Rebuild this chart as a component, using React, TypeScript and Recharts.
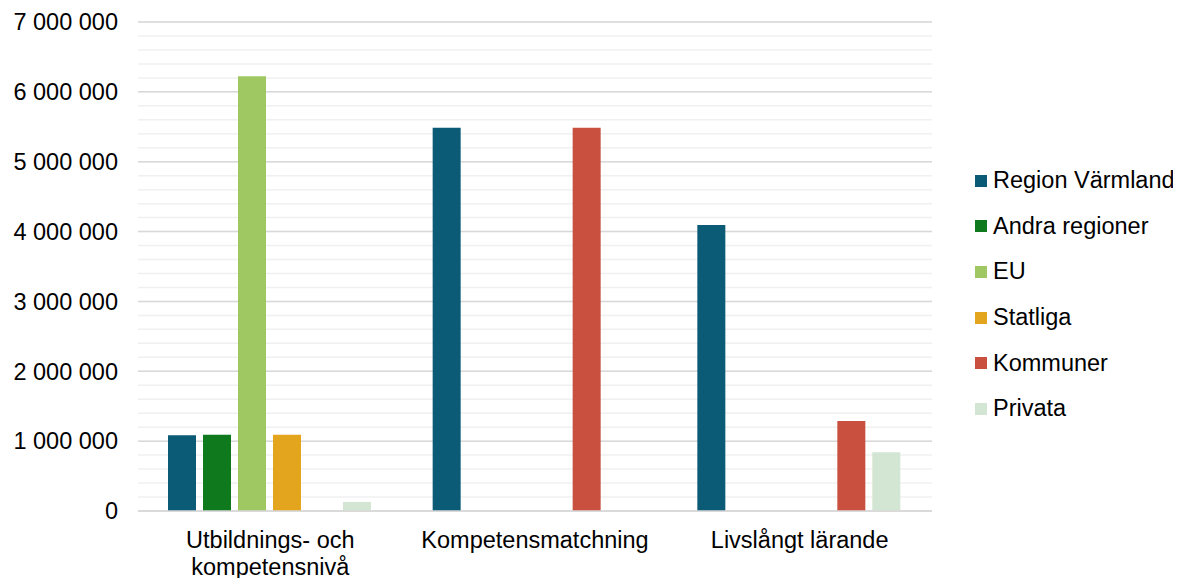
import React from "react";
import { ComposedChart, Bar, XAxis, YAxis, CartesianGrid } from "recharts";

const categories = ["Utbildnings- och kompetensnivå", "Kompetensmatchning", "Livslångt lärande"];
const regionVarmland = [1085000, 5485000, 4095000];
const andraRegioner = [1090000, 0, 0];
const eu = [6225000, 0, 0];
const statliga = [1090000, 0, 0];
const kommuner = [0, 5485000, 1290000];
const privata = [130000, 0, 840000];

const yTicks = [0, 1000000, 2000000, 3000000, 4000000, 5000000, 6000000, 7000000];
const minorTicks = Array.from({ length: 36 }, (_, i) => i * 200000);

const seriesNames = ["Region Värmland", "Andra regioner", "EU", "Statliga", "Kommuner", "Privata"];
const seriesKeys = ["rv", "andra", "eu", "stat", "komm", "priv"];
const seriesColors = ["#0B5A76", "#0E7A1D", "#9FC862", "#E2A51D", "#C94F3F", "#D3E5D3"];

const data = categories.map((c, i) => ({
  name: c,
  rv: regionVarmland[i],
  andra: andraRegioner[i],
  eu: eu[i],
  stat: statliga[i],
  komm: kommuner[i],
  priv: privata[i],
}));

const FONT = "'Liberation Sans', Arial, sans-serif";
const FS = 23.5;

const fmt = (v: number) => String(v).replace(/\B(?=(\d{3})+(?!\d))/g, " ");

const XTick = (props: any) => {
  const { x, y, payload } = props;
  const label: string = payload.value;
  const lines = label === "Utbildnings- och kompetensnivå" ? ["Utbildnings- och", "kompetensnivå"] : [label];
  return (
    <g>
      {lines.map((l, i) => (
        <text key={i} x={x} y={y + 29 + i * 27} textAnchor="middle" fill="#000" fontSize={FS} fontFamily={FONT}>
          {l}
        </text>
      ))}
    </g>
  );
};

const LegendBox = () => (
  <div style={{ position: "absolute", left: 967, top: 150, fontFamily: FONT, fontSize: FS, color: "#000" }}>
    {seriesNames.map((n, i) => (
      <div key={n} style={{ display: "flex", alignItems: "center", height: 45.6 }}>
        <div style={{ width: 12, height: 12, background: seriesColors[i], marginRight: 6 }} />
        <span style={{ whiteSpace: "nowrap" }}>{n}</span>
      </div>
    ))}
  </div>
);

export default function App() {
  const minorGen = (p: any) => {
    const ya = p && p.yAxis;
    if (ya && typeof ya.scale === "function") {
      return minorTicks.map((v) => ya.scale(v));
    }
    const off = p.offset;
    return minorTicks.map((v) => off.top + off.height * (1 - v / 7000000));
  };
  return (
    <div style={{ width: 1165, height: 570, position: "relative" }}>
      <ComposedChart
        width={1165}
        height={570}
        data={data}
        margin={{ top: 14, right: 241, left: 0, bottom: 0 }}
        barCategoryGap={30}
        barGap={7}
      >
        <CartesianGrid vertical={false} stroke="#f0f0f0" strokeWidth={1.5} horizontalCoordinatesGenerator={minorGen} />
        <CartesianGrid vertical={false} stroke="#d9d9d9" strokeWidth={1.5} />
        <XAxis
          dataKey="name"
          height={67}
          axisLine={{ stroke: "#d9d9d9", strokeWidth: 1.5 }}
          tickLine={false}
          tick={<XTick />}
          interval={0}
        />
        <YAxis
          width={130}
          domain={[0, 7000000]}
          ticks={yTicks}
          tickFormatter={fmt}
          axisLine={false}
          tickLine={false}
          tickMargin={14}
          tick={{ fill: "#000", fontSize: FS, fontFamily: FONT }}
          interval={0}
        />
        {seriesKeys.map((k, i) => (
          <Bar key={k} dataKey={k} name={seriesNames[i]} fill={seriesColors[i]} isAnimationActive={false} />
        ))}
      </ComposedChart>
      <LegendBox />
    </div>
  );
}
